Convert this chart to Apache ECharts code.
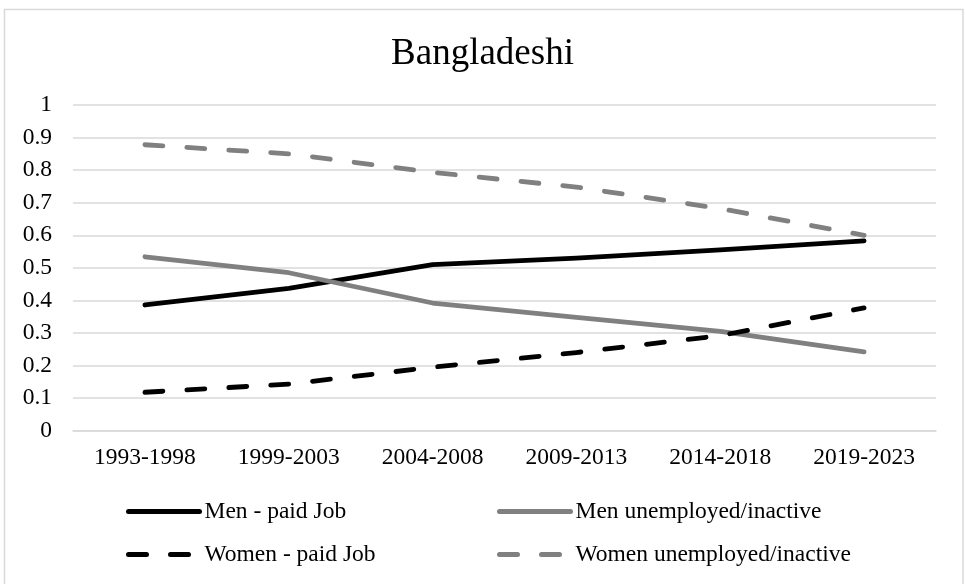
<!DOCTYPE html>
<html>
<head>
<meta charset="utf-8">
<script src="https://cdn.jsdelivr.net/npm/echarts@6/dist/echarts.min.js"></script>
<style>
html,body{margin:0;padding:0;background:#fff;}
#c{width:965px;height:584px;}
</style>
</head>
<body>
<div id="c"></div>
<script>
const titleText = 'Bangladeshi';
const categories = ['1993-1998', '1999-2003', '2004-2008', '2009-2013', '2014-2018', '2019-2023'];
const yTicks = { min: 0, max: 1, interval: 0.1 };
const seriesNames = ['Men - paid Job', 'Men unemployed/inactive', 'Women - paid Job', 'Women unemployed/inactive'];
const menPaid = [0.386, 0.437, 0.510, 0.530, 0.555, 0.583];
const menUnemployed = [0.534, 0.485, 0.392, 0.348, 0.305, 0.242];
const womenPaid = [0.118, 0.143, 0.195, 0.240, 0.292, 0.377];
const womenUnemployed = [0.878, 0.850, 0.793, 0.748, 0.682, 0.600];

const font = '"Liberation Serif", "Times New Roman", serif';
const chart = echarts.init(document.getElementById('c'), null, { renderer: 'canvas' });

function mkSeries(name, data, color, dashed) {
  return {
    name: name,
    type: 'line',
    data: data,
    symbol: 'none',
    showSymbol: false,
    smooth: false,
    lineStyle: {
      color: color,
      width: 4.8,
      type: dashed ? [18, 24] : 'solid',
      cap: 'round',
      join: 'round'
    },
    itemStyle: { color: color },
    emphasis: { disabled: true }
  };
}

const legendText = { fontFamily: font, fontSize: 23.5, color: '#000', lineHeight: 23 };
const legendCommon = {
  orient: 'vertical',
  top: 494.5,
  itemWidth: 71,
  itemHeight: 14,
  itemGap: 19,
  padding: 5,
  textStyle: legendText,
  lineStyle: { width: 5 },
  itemStyle: { opacity: 0 }
};

chart.setOption({
  animation: false,
  backgroundColor: '#fff',
  title: {
    text: titleText,
    left: 'center',
    top: 31,
    textStyle: { fontFamily: font, fontSize: 37, fontWeight: 'normal', color: '#000', lineHeight: 37 }
  },
  graphic: [{
    type: 'rect',
    shape: { x: 4.5, y: 9.5, width: 958.5, height: 590 },
    style: { fill: 'none', stroke: '#d9d9d9', lineWidth: 1.5 },
    silent: true
  }],
  legend: [
    Object.assign({ data: [seriesNames[0], seriesNames[2]], left: 121 }, legendCommon),
    Object.assign({ data: [seriesNames[1], seriesNames[3]], left: 492 }, legendCommon)
  ],
  grid: { left: 73, right: 29, top: 105, bottom: 153.3, containLabel: false },
  xAxis: {
    type: 'category',
    data: categories,
    boundaryGap: true,
    axisLine: { show: true, lineStyle: { color: '#d9d9d9', width: 1.5 } },
    axisTick: { show: false },
    axisLabel: { fontFamily: font, fontSize: 23.5, color: '#000', margin: 16, lineHeight: 23, interval: 0 },
    splitLine: { show: false }
  },
  yAxis: {
    type: 'value',
    min: yTicks.min,
    max: yTicks.max,
    interval: yTicks.interval,
    axisLine: { show: false },
    axisTick: { show: false },
    axisLabel: {
      fontFamily: font, fontSize: 23.5, color: '#000', margin: 21,
      formatter: function (v) { return String(Math.round(v * 10) / 10); }
    },
    splitLine: { show: true, lineStyle: { color: '#d9d9d9', width: 1.5 } }
  },
  series: [
    mkSeries(seriesNames[0], menPaid, '#000000', false),
    mkSeries(seriesNames[1], menUnemployed, '#808080', false),
    mkSeries(seriesNames[2], womenPaid, '#000000', true),
    mkSeries(seriesNames[3], womenUnemployed, '#808080', true)
  ]
});
</script>
</body>
</html>
